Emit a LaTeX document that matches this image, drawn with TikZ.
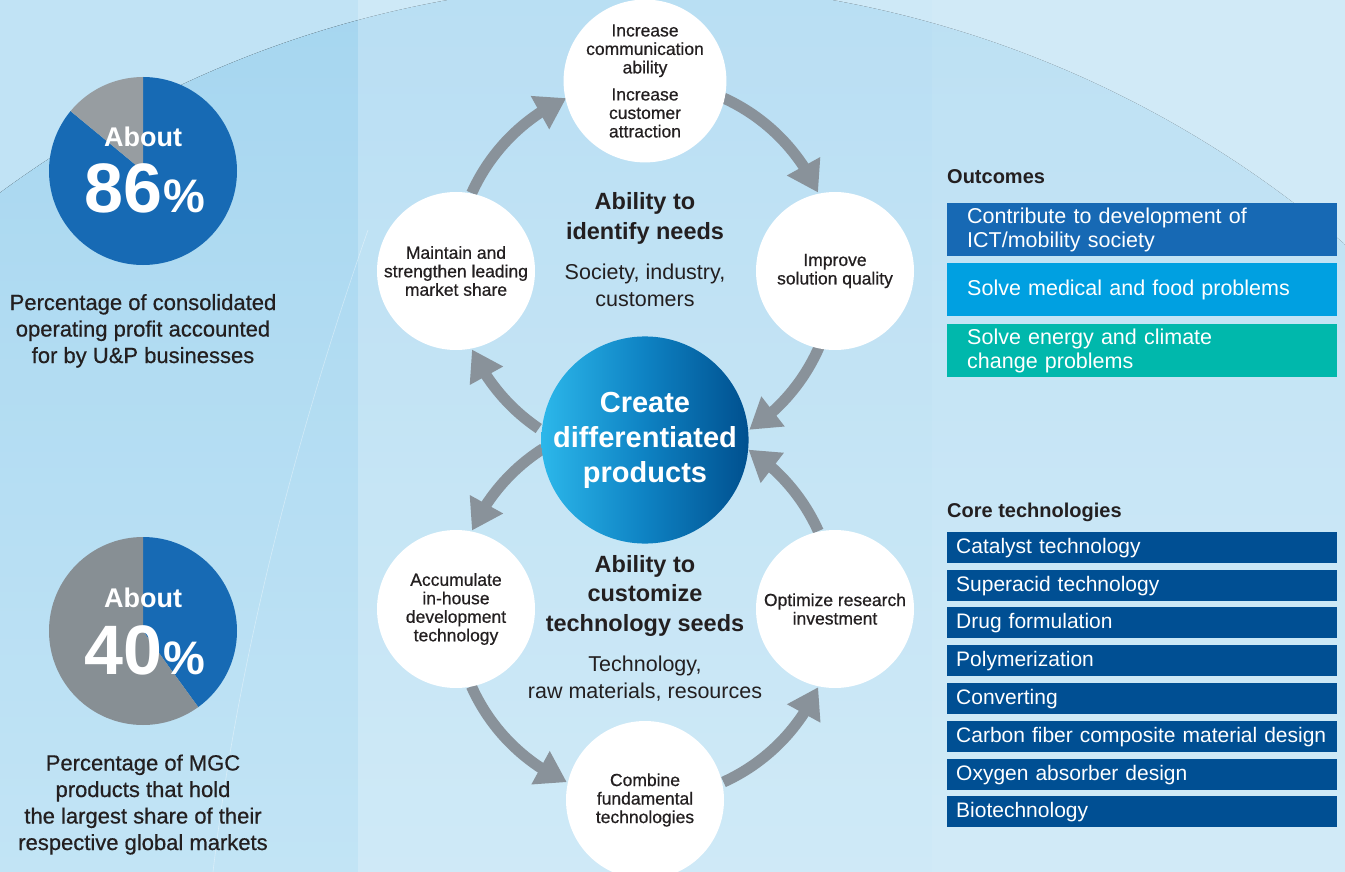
\documentclass[tikz,border=0pt]{standalone}
\usepackage{fontspec}
\setmainfont{Liberation Sans}
\newfontfamily\medfont{Liberation Sans}[FakeBold=0.6]
\usetikzlibrary{arrows.meta,bending}
\definecolor{ink}{HTML}{231F20}
\definecolor{bgbase}{HTML}{C1E3F5}
\definecolor{bgtop}{HTML}{A6D6F0}
\definecolor{bgbot}{HTML}{C2E4F5}
\definecolor{pieblue}{HTML}{176AB4}
\definecolor{piegrayA}{HTML}{979DA1}
\definecolor{piegrayB}{HTML}{878F94}
\definecolor{arrowgray}{HTML}{89929A}
\definecolor{hubL}{HTML}{2CB7EA}
\definecolor{hubM}{HTML}{0E82C3}
\definecolor{hubR}{HTML}{00508F}
\definecolor{outA}{HTML}{1769B4}
\definecolor{outB}{HTML}{00A0E1}
\definecolor{outC}{HTML}{00B8AC}
\definecolor{corebox}{HTML}{004F93}
\begin{document}
\begin{tikzpicture}[x=1pt,y=1pt,
  txt/.style={text=ink, inner sep=0pt, align=center},
  caption/.style={txt, font=\medfont\fontsize{22}{26.5}\selectfont},
  about/.style={text=white, inner sep=0pt, font=\bfseries\fontsize{27}{27}\selectfont},
  bignum/.style={text=white, inner sep=0pt, font=\bfseries\fontsize{70}{70}\selectfont},
  pct/.style={text=white, inner sep=0pt, font=\bfseries\fontsize{47}{47}\selectfont},
  bubble/.style={circle, fill=white, minimum size=158pt, inner sep=0pt, align=center, text=ink, font=\medfont\fontsize{17.5}{18.5}\selectfont},
  hub/.style={circle, minimum size=206pt, inner sep=0pt, align=center, text=white, font=\bfseries\fontsize{29}{35}\selectfont, left color=hubL, right color=hubR, middle color=hubM},
  flow/.style={draw=arrowgray, line width=11pt, -{Triangle[width=36pt,length=30pt]}},
  headbold/.style={txt, font=\bfseries\fontsize{23.5}{29.5}\selectfont},
  subtxt/.style={txt, font=\fontsize{21.5}{26.5}\selectfont},
  sectitle/.style={text=ink, inner sep=0pt, anchor=base west, font=\bfseries\fontsize{20}{24}\selectfont},
  outbox/.style={anchor=north west, minimum width=390pt, minimum height=53pt, inner xsep=20pt, inner ysep=0pt, text width=350pt, align=left, text=white, font=\fontsize{21.5}{24}\selectfont},
  corebx/.style={anchor=north west, fill=corebox, minimum width=390pt, minimum height=31pt, inner xsep=9pt, inner ysep=0pt, text width=372pt, align=left, text=white, font=\fontsize{21}{24}\selectfont}
]
\useasboundingbox (0,0) rectangle (1345,-872);
% background
\fill[bgbase] (0,0) rectangle (1345,-872);
\begin{scope}
  \clip (640,-1064) circle[radius=1081];
  \fill[top color=bgtop, bottom color=bgbot] (0,0) rectangle (1345,-872);
\end{scope}
\fill[white, opacity=0.22] (358,0) rectangle (932,-872);
\fill[white, opacity=0.26] (932,0) rectangle (1345,-872);
\draw[white, opacity=0.4, line width=0.6pt] (368,-230) .. controls (305,-410) and (240,-640) .. (213,-872);

% pie charts
\coordinate (p1) at (143,-171);
\fill[pieblue] (p1) -- ++(90:94) arc[start angle=90, end angle=-219.6, radius=94] -- cycle;
\fill[piegrayA] (p1) -- ++(90:94) arc[start angle=90, end angle=140.4, radius=94] -- cycle;
\node[about, anchor=base] (ab1) at (143,-147) {About};
\node[bignum, anchor=base east] (n1) at (163,-213) {86};
\node[pct, anchor=base west] (c1) at (163,-213) {\%};
\node[caption, anchor=base] (cap1) at (143,-363) {Percentage of consolidated\\operating profit accounted\\for by U\&P businesses};

\coordinate (p2) at (143,-631);
\fill[pieblue] (p2) -- ++(90:94) arc[start angle=90, end angle=-54, radius=94] -- cycle;
\fill[piegrayB] (p2) -- ++(90:94) arc[start angle=90, end angle=306, radius=94] -- cycle;
\node[about, anchor=base] (ab2) at (143,-607) {About};
\node[bignum, anchor=base east] (n2) at (163,-674) {40};
\node[pct, anchor=base west] (c2) at (163,-674) {\%};
\node[caption, anchor=base] (cap2) at (143,-850) {Percentage of MGC\\products that hold\\the largest share of their\\respective global markets};

% ring centres
\coordinate (ringU) at (645,-271);
\coordinate (ringL) at (645,-609);

% arrows (upper loop, clockwise)
\draw[flow] ([shift={(155.8:190)}]ringU) arc[start angle=155.8, end angle=114.5, radius=190];
\draw[flow] ([shift={(65.6:190)}]ringU) arc[start angle=65.6, end angle=24.4, radius=190];
\draw[flow] ([shift={(-23.6:190)}]ringU) arc[start angle=-23.6, end angle=-56.7, radius=190];
\draw[flow] ([shift={(236:190)}]ringU) arc[start angle=236, end angle=204.4, radius=190];
% arrows (lower loop)
\draw[flow] ([shift={(122.4:190)}]ringL) arc[start angle=122.4, end angle=155.6, radius=190];
\draw[flow] ([shift={(204:190)}]ringL) arc[start angle=204, end angle=245.7, radius=190];
\draw[flow] ([shift={(-65.6:190)}]ringL) arc[start angle=-65.6, end angle=-24.3, radius=190];
\draw[flow] ([shift={(24.2:190)}]ringL) arc[start angle=24.2, end angle=57, radius=190];

% circles
\node[bubble] (top) at (645,-81) {Increase\\communication\\ability\\[8.5pt]Increase\\customer\\attraction};
\node[bubble] (left) at (456,-271) {Maintain and\\strengthen leading\\market share};
\node[bubble] (right) at (835,-271) {Improve\\solution quality};
\node[bubble] (lleft) at (456,-609) {Accumulate\\in-house\\development\\technology};
\node[bubble] (lright) at (835,-609) {Optimize research\\investment};
\node[bubble] (bottom) at (645,-800) {Combine\\fundamental\\technologies};
\node[hub] (hub) at (645,-440) {Create\\differentiated\\products};

% centre labels (base = last line)
\node[headbold, anchor=base] (needs) at (645,-239) {Ability to\\identify needs};
\node[subtxt, anchor=base] (needsub) at (645,-306) {Society, industry,\\customers};
\node[headbold, anchor=base] (seeds) at (645,-631) {Ability to\\customize\\technology seeds};
\node[subtxt, anchor=base] (seedsub) at (645,-698) {Technology,\\raw materials, resources};

% right panel
\node[sectitle] (outt) at (947,-183) {Outcomes};
\node[outbox, fill=outA] (o1) at (947,-203) {Contribute to development of\\ICT/mobility society};
\node[outbox, fill=outB] (o2) at (947,-263) {Solve medical and food problems};
\node[outbox, fill=outC] (o3) at (947,-324) {Solve energy and climate\\change problems};

\node[sectitle] (coret) at (947,-517) {Core technologies};
\node[corebx] (k1) at (947,-532) {Catalyst technology};
\node[corebx] (k2) at (947,-570) {Superacid technology};
\node[corebx] (k3) at (947,-607) {Drug formulation};
\node[corebx] (k4) at (947,-645) {Polymerization};
\node[corebx] (k5) at (947,-683) {Converting};
\node[corebx] (k6) at (947,-721) {Carbon fiber composite material design};
\node[corebx] (k7) at (947,-759) {Oxygen absorber design};
\node[corebx] (k8) at (947,-796) {Biotechnology};
\end{tikzpicture}
\end{document}
